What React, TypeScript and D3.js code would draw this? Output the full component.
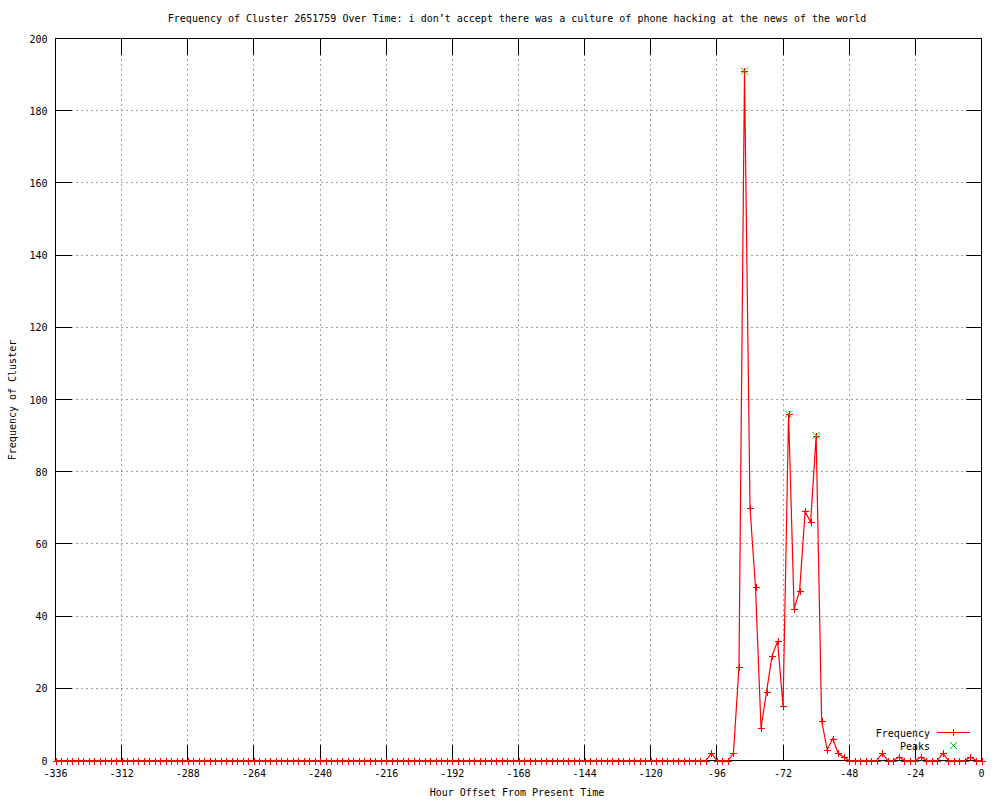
import React, { useEffect, useRef } from "react";
import * as d3 from "d3";

const title =
  "Frequency of Cluster 2651759 Over Time: i don\u2019t accept there was a culture of phone hacking at the news of the world";
const xLabel = "Hour Offset From Present Time";
const yLabel = "Frequency of Cluster";

// one point every 2 hours, -336 .. 0
const hours = d3.range(-336, 1, 2);
const counts = [
  0, 0, 0, 0, 0, 0, 0, 0, 0, 0,
  0, 0, 0, 0, 0, 0, 0, 0, 0, 0,
  0, 0, 0, 0, 0, 0, 0, 0, 0, 0,
  0, 0, 0, 0, 0, 0, 0, 0, 0, 0,
  0, 0, 0, 0, 0, 0, 0, 0, 0, 0,
  0, 0, 0, 0, 0, 0, 0, 0, 0, 0,
  0, 0, 0, 0, 0, 0, 0, 0, 0, 0,
  0, 0, 0, 0, 0, 0, 0, 0, 0, 0,
  0, 0, 0, 0, 0, 0, 0, 0, 0, 0,
  0, 0, 0, 0, 0, 0, 0, 0, 0, 0,
  0, 0, 0, 0, 0, 0, 0, 0, 0, 0,
  0, 0, 0, 0, 0, 0, 0, 0, 0, 2,
  0, 0, 0, 2, 26, 191, 70, 48, 9, 19,
  29, 33, 15, 96, 42, 47, 69, 66, 90, 11,
  3, 6, 2, 1, 0, 0, 0, 0, 0, 0,
  2, 0, 0, 1, 0, 0, 0, 1, 0, 0,
  0, 2, 0, 0, 0, 0, 1, 0, 0,
];
const peakHours = [-86, -70, -60];
const peakCounts = [191, 96, 90];

const xTicks = [-336, -312, -288, -264, -240, -216, -192, -168, -144, -120, -96, -72, -48, -24, 0];
const yTicks = [0, 20, 40, 60, 80, 100, 120, 140, 160, 180, 200];

const W = 1000,
  H = 800;
const font = "'DejaVu Sans Mono', monospace";
const fs = "10px";

export default function App() {
  const ref = useRef<SVGSVGElement>(null);

  useEffect(() => {
    const svg = d3.select(ref.current);
    svg.selectAll("*").remove();

    const left = 55.5,
      right = 981.5,
      top = 38.5,
      bottom = 760.5;
    const x = d3.scaleLinear().domain([-336, 0]).range([left, right]);
    const y = d3.scaleLinear().domain([0, 200]).range([bottom, top]);
    const tick = 16;

    svg.append("rect").attr("width", W).attr("height", H).attr("fill", "#fff");

    // grid
    const grid = svg.append("g").attr("stroke", "#a0a0a0").attr("stroke-dasharray", "2,3").attr("shape-rendering", "crispEdges");
    xTicks.slice(1, -1).forEach((t) => {
      grid.append("line").attr("x1", x(t)).attr("x2", x(t)).attr("y1", top).attr("y2", bottom);
    });
    yTicks.slice(1, -1).forEach((t) => {
      grid.append("line").attr("x1", left).attr("x2", right).attr("y1", y(t)).attr("y2", y(t));
    });

    // ticks (mirrored)
    const ticks = svg.append("g").attr("stroke", "#000").attr("shape-rendering", "crispEdges");
    xTicks.forEach((t) => {
      ticks.append("line").attr("x1", x(t)).attr("x2", x(t)).attr("y1", bottom).attr("y2", bottom - tick);
      ticks.append("line").attr("x1", x(t)).attr("x2", x(t)).attr("y1", top).attr("y2", top + tick);
    });
    yTicks.forEach((t) => {
      ticks.append("line").attr("x1", left).attr("x2", left + tick).attr("y1", y(t)).attr("y2", y(t));
      ticks.append("line").attr("x1", right).attr("x2", right - tick).attr("y1", y(t)).attr("y2", y(t));
    });

    // frame
    svg
      .append("rect")
      .attr("x", left)
      .attr("y", top)
      .attr("width", right - left)
      .attr("height", bottom - top)
      .attr("fill", "none")
      .attr("stroke", "#000")
      .attr("shape-rendering", "crispEdges");

    // tick labels
    const lbl = svg.append("g").style("font-family", font).style("font-size", fs).attr("fill", "#000");
    xTicks.forEach((t) => {
      lbl.append("text").attr("x", x(t)).attr("y", bottom + 16).attr("text-anchor", "middle").text(t);
    });
    yTicks.forEach((t) => {
      lbl.append("text").attr("x", left - 8).attr("y", y(t) + 4).attr("text-anchor", "end").text(t);
    });

    // titles
    svg
      .append("text")
      .attr("x", 517)
      .attr("y", 22)
      .attr("text-anchor", "middle")
      .style("font-family", font)
      .style("font-size", fs)
      .text(title);
    svg
      .append("text")
      .attr("x", 517)
      .attr("y", 796)
      .attr("text-anchor", "middle")
      .style("font-family", font)
      .style("font-size", fs)
      .text(xLabel);
    svg
      .append("text")
      .attr("transform", `translate(16,400) rotate(-90)`)
      .attr("text-anchor", "middle")
      .style("font-family", font)
      .style("font-size", fs)
      .text(yLabel);

    // series line
    const line = d3
      .line<number>()
      .x((d, i) => x(hours[i]))
      .y((d) => y(d));
    svg.append("path").datum(counts).attr("d", line).attr("fill", "none").attr("stroke", "#ff0000").attr("stroke-width", 1.2);

    const plus = (g: any, cx: number, cy: number, s: number) => {
      g.append("line").attr("x1", cx - s).attr("x2", cx + s).attr("y1", cy).attr("y2", cy);
      g.append("line").attr("x1", cx).attr("x2", cx).attr("y1", cy - s).attr("y2", cy + s);
    };
    const cross = (g: any, cx: number, cy: number, s: number) => {
      g.append("line").attr("x1", cx - s).attr("x2", cx + s).attr("y1", cy - s).attr("y2", cy + s);
      g.append("line").attr("x1", cx - s).attr("x2", cx + s).attr("y1", cy + s).attr("y2", cy - s);
    };

    const marks = svg.append("g").attr("stroke", "#ff0000").attr("stroke-width", 1.2).attr("shape-rendering", "crispEdges");
    counts.forEach((c, i) => plus(marks, Math.round(x(hours[i])) + 0.5, Math.round(y(c)) + 0.5, 3.5));

    const pk = svg.append("g").attr("stroke", "#00c000").attr("stroke-width", 1);
    peakHours.forEach((h, i) => cross(pk, x(h), y(peakCounts[i]), 3.5));

    // legend
    const lg = svg.append("g").style("font-family", font).style("font-size", fs);
    lg.append("text").attr("x", 930).attr("y", 737).attr("text-anchor", "end").text("Frequency");
    lg.append("text").attr("x", 930).attr("y", 750).attr("text-anchor", "end").text("Peaks");
    const lgl = svg.append("g").attr("stroke", "#ff0000").attr("stroke-width", 1.2).attr("shape-rendering", "crispEdges");
    lgl.append("line").attr("x1", 937).attr("x2", 970).attr("y1", 732.5).attr("y2", 732.5);
    plus(lgl, 953.5, 732.5, 3.5);
    const lgp = svg.append("g").attr("stroke", "#00c000").attr("stroke-width", 1);
    cross(lgp, 953.5, 745.5, 3.5);
  }, []);

  return (
    <div>
      <svg ref={ref} width={W} height={H} style={{ position: "absolute", left: 0, top: 0 }} />
    </div>
  );
}
